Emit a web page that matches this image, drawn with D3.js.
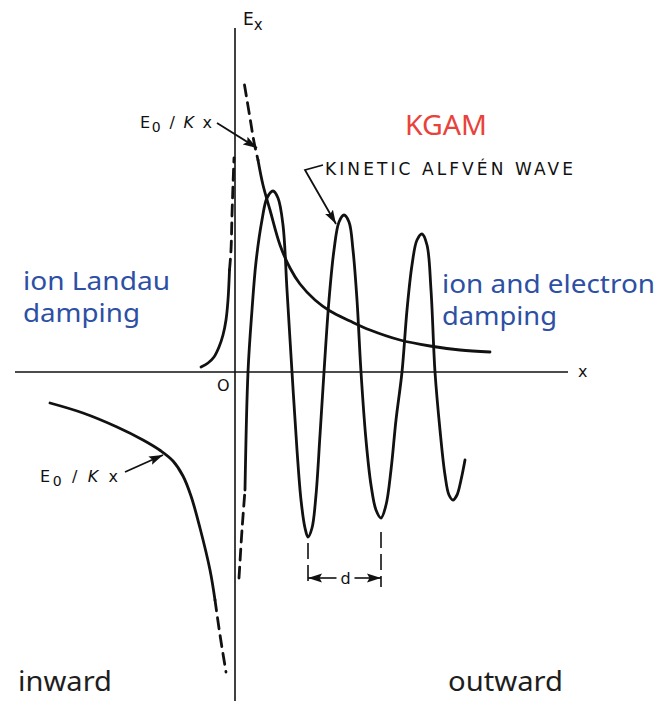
<!DOCTYPE html>
<html>
<head>
<meta charset="utf-8">
<script src="https://cdn.jsdelivr.net/npm/d3@7"></script>
<style>
  body { margin: 0; background: #fff; }
  svg { display: block; }
</style>
</head>
<body>
<div id="chart"></div>
<script>
// values (x and E_x in arbitrary units, origin at the axes crossing)
const waveDashed = [[0.4, -20.6], [0.7, -15.8], [1.0, -11.8]]
const wave = [
  [1.0, -11.8], [1.3, 0], [1.7, 6.2], [2.1, 11.0], [2.7, 15.2], [3.2, 17.4], [3.8, 18.1],
  [4.3, 17.4], [4.8, 14.7], [5.2, 8.2], [5.7, 0], [6.2, -7.8], [6.6, -12.8], [7.0, -15.6],
  [7.3, -16.5], [7.7, -15.6], [8.1, -12.3], [8.5, -6.3], [8.9, 0], [9.4, 7.2], [9.9, 12.2],
  [10.4, 15.0], [10.9, 15.7], [11.4, 15.0], [11.8, 12.2], [12.2, 7.2], [12.6, 0], [13.1, -6.8],
  [13.6, -11.3], [14.1, -13.8], [14.6, -14.6], [15.1, -13.3], [15.6, -9.8], [16.1, -4.8],
  [16.7, 0], [17.2, 6.2], [17.7, 10.7], [18.2, 13.2], [18.7, 13.8], [19.2, 12.7], [19.6, 8.2],
  [20.0, 0], [20.5, -5.8], [21.0, -10.3], [21.4, -12.3], [21.8, -12.8], [22.2, -12.3],
  [22.6, -10.8], [23.0, -8.8]
]
const decayRightDashed = [[0.95, 28.7], [1.5, 25.4], [1.9, 23.0], [2.3, 21.2]]
const decayRight = [
  [2.3, 21.2], [2.8, 18.7], [3.5, 16.2], [4.5, 12.7], [5.5, 10.4], [6.5, 8.8], [8.0, 7.2],
  [9.5, 6.1], [11.5, 5.1], [13.5, 4.2], [16.5, 3.2], [19.5, 2.6], [22.5, 2.2], [25.5, 2.0]
]
const peakLeft = [
  [-3.4, 0.5], [-2.7, 0.9], [-2.1, 1.5], [-1.6, 2.5], [-1.2, 3.7], [-0.9, 5.2], [-0.7, 7.2],
  [-0.55, 10.2]
]
const peakLeftDashed = [[-0.55, 10.2], [-0.4, 12.2], [-0.3, 15.7], [-0.2, 18.7], [-0.1, 21.4]]
const decayLeft = [
  [-18.5, -3.1], [-15.2, -4.1], [-11.8, -5.5], [-9.2, -6.8], [-7.4, -7.9], [-6.2, -8.9],
  [-5.2, -10.4], [-4.4, -12.4], [-3.5, -15.6], [-2.5, -19.8], [-2.0, -22.8]
]
const decayLeftDashed = [[-2.0, -22.8], [-1.5, -26.3], [-0.9, -30.0]]

// wavelength marker between the first two troughs
const troughs = [[7.3, -16.5], [14.6, -14.6]]

const width = 659
const height = 701

const x = d3.scaleLinear().domain([-23.5, 42.4]).range([0, width])
const y = d3.scaleLinear().domain([-32.9, 37.2]).range([height, 0])

const svg = d3.select('#chart').append('svg')
  .attr('width', width)
  .attr('height', height)

const defs = svg.append('defs')
defs.append('marker')
  .attr('id', 'head')
  .attr('viewBox', '0 0 14 10')
  .attr('refX', 14).attr('refY', 5)
  .attr('markerWidth', 14).attr('markerHeight', 10)
  .attr('markerUnits', 'userSpaceOnUse')
  .attr('orient', 'auto')
  .append('path')
  .attr('d', 'M0,0.5 L14,5 L0,9.5 L2.5,5 Z')
  .attr('fill', '#111')

const ink = '#111'
const blue = '#2d4fa4'
const red = '#e9423b'

// axes
svg.append('line')
  .attr('x1', x(0)).attr('x2', x(0))
  .attr('y1', y(34.4)).attr('y2', height)
  .attr('stroke', ink).attr('stroke-width', 1.6)
svg.append('line')
  .attr('x1', x(-22)).attr('x2', x(33.3))
  .attr('y1', y(0)).attr('y2', y(0))
  .attr('stroke', ink).attr('stroke-width', 1.6)

const line = d3.line()
  .x(d => x(d[0]))
  .y(d => y(d[1]))
  .curve(d3.curveCatmullRom.alpha(0.5))

function curve(data, dashed) {
  svg.append('path')
    .datum(data)
    .attr('d', line)
    .attr('fill', 'none')
    .attr('stroke', ink)
    .attr('stroke-width', 2.8)
    .attr('stroke-linecap', 'round')
    .attr('stroke-dasharray', dashed ? '11,7' : null)
}

curve(wave, false)
curve(waveDashed, true)
curve(decayRight, false)
curve(decayRightDashed, true)
curve(peakLeft, false)
curve(peakLeftDashed, true)
curve(decayLeft, false)
curve(decayLeftDashed, true)

// d marker
const dY = -20.6
troughs.forEach((t, i) => {
  svg.append('line')
    .attr('x1', x(t[0])).attr('x2', x(t[0]))
    .attr('y1', y(t[1] - (i == 0 ? 0.6 : 1.4))).attr('y2', y(dY - 0.9))
    .attr('stroke', ink).attr('stroke-width', 1.6)
    .attr('stroke-dasharray', '16,6')
})
const dMid = (troughs[0][0] + troughs[1][0]) / 2
svg.append('line')
  .attr('x1', x(dMid - 0.8)).attr('x2', x(troughs[0][0]))
  .attr('y1', y(dY)).attr('y2', y(dY))
  .attr('stroke', ink).attr('stroke-width', 1.6)
  .attr('marker-end', 'url(#head)')
svg.append('line')
  .attr('x1', x(dMid + 1.0)).attr('x2', x(troughs[1][0]))
  .attr('y1', y(dY)).attr('y2', y(dY))
  .attr('stroke', ink).attr('stroke-width', 1.6)
  .attr('marker-end', 'url(#head)')
svg.append('text')
  .attr('x', x(dMid + 0.1)).attr('y', y(dY - 0.6))
  .attr('text-anchor', 'middle')
  .style('font-family', 'DejaVu Sans').style('font-size', '16px').style('fill', ink)
  .text('d')

// annotation arrows
const arrows = [
  [[-1.8, 24.9], [2.2, 22.4]],
  [[-11.0, -10.0], [-7.2, -8.3]],
  [[8.8, 20.7], [7.0, 20.2], [10.1, 14.8]]
]
arrows.forEach(a => {
  svg.append('path')
    .datum(a)
    .attr('d', d3.line().x(d => x(d[0])).y(d => y(d[1])))
    .attr('fill', 'none')
    .attr('stroke', ink).attr('stroke-width', 1.8)
    .attr('marker-end', 'url(#head)')
})

// lettering on the original sketch
function eLabel(px, py, len) {
  const t = svg.append('text')
    .attr('x', x(px)).attr('y', y(py))
    .attr('textLength', len).attr('lengthAdjust', 'spacing')
    .style('font-family', 'DejaVu Sans').style('font-size', '16px').style('fill', ink)
  t.append('tspan').text('E')
  t.append('tspan').attr('dy', 4).style('font-size', '14px').text('0')
  t.append('tspan').attr('dy', -4).text(' / ')
  t.append('tspan').style('font-style', 'italic').text('K')
  t.append('tspan').text(' x')
}
eLabel(-9.5, 24.4, 72)
eLabel(-19.5, -11.0, 78)

svg.append('text')
  .attr('x', x(9.0)).attr('y', y(19.7))
  .attr('textLength', 248).attr('lengthAdjust', 'spacing')
  .style('font-family', 'DejaVu Sans').style('font-size', '17px').style('fill', ink)
  .text('KINETIC ALFVÉN WAVE')

const ex = svg.append('text')
  .attr('x', x(0.8)).attr('y', y(34.7))
  .style('font-family', 'DejaVu Sans').style('font-size', '17px').style('fill', ink)
ex.append('tspan').text('E')
ex.append('tspan').attr('dy', 5).style('font-size', '15px').text('x')

svg.append('text')
  .attr('x', x(34.3)).attr('y', y(-0.5))
  .style('font-family', 'DejaVu Sans').style('font-size', '16px').style('fill', ink)
  .text('x')
svg.append('text')
  .attr('x', x(-1.8)).attr('y', y(-1.9))
  .style('font-family', 'DejaVu Sans').style('font-size', '16px').style('fill', ink)
  .text('O')

// coloured captions
const captions = [
  {text: 'KGAM', at: [17.0, 23.7], len: 82, size: 28, color: red},
  {text: 'ion Landau', at: [-21.2, 8.2], len: 147, size: 25, color: blue},
  {text: 'damping', at: [-21.2, 5.0], len: 117, size: 25, color: blue},
  {text: 'ion and electron', at: [20.7, 7.9], len: 213, size: 25, color: blue},
  {text: 'damping', at: [20.7, 4.7], len: 115, size: 25, color: blue},
  {text: 'inward', at: [-21.7, -31.9], len: 94, size: 28, color: '#1e1e1e'},
  {text: 'outward', at: [21.3, -31.9], len: 115, size: 28, color: '#1e1e1e'}
]
svg.selectAll('.caption')
  .data(captions)
  .enter()
  .append('text')
  .classed('caption', true)
  .attr('x', d => x(d.at[0]))
  .attr('y', d => y(d.at[1]))
  .attr('textLength', d => d.len)
  .attr('lengthAdjust', 'spacingAndGlyphs')
  .style('font-family', '"Noto Sans", sans-serif')
  .style('font-size', d => d.size + 'px')
  .style('fill', d => d.color)
  .text(d => d.text)
</script>
</body>
</html>
